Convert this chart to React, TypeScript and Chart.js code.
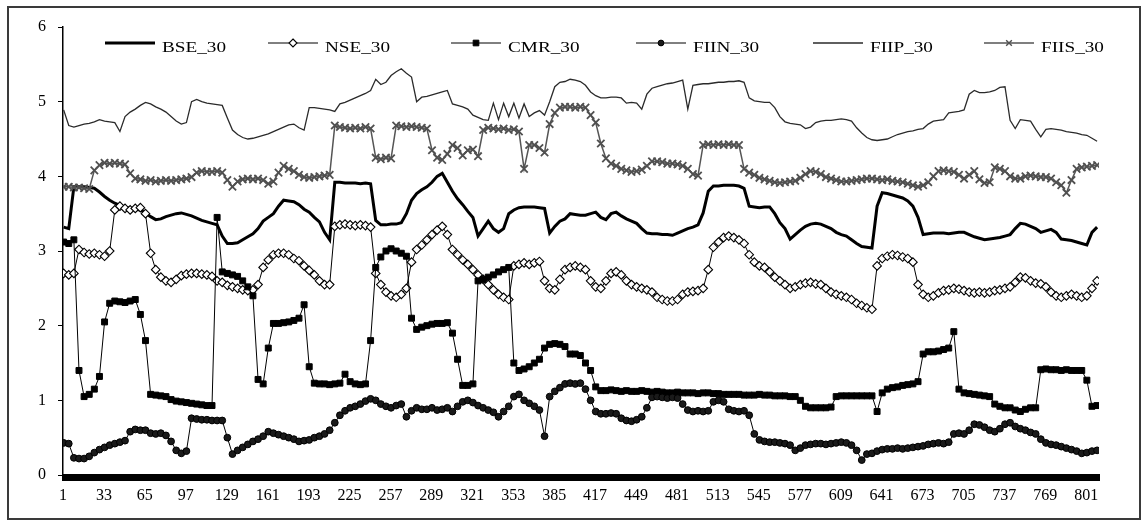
import React, { useEffect, useRef } from 'react';
import { Chart, registerables } from 'chart.js';

Chart.register(...registerables);

// ---- data -----------------------------------------------------------------
const N_PERIODS = 810;
const X_TICK_LABELS = [1, 33, 65, 97, 129, 161, 193, 225, 257, 289, 321, 353, 385, 417, 449, 481, 513, 545, 577, 609, 641, 673, 705, 737, 769, 801];
const Y_TICK_LABELS = [0, 1, 2, 3, 4, 5, 6];
// observation number of each sampled point (every 4th period)
const PERIODS = Array.from({ length: 203 }, (_, k) => 1 + 4 * k);

const BSE_30 = [
  3.32, 3.30, 3.86, 3.86, 3.86, 3.85, 3.84, 3.79, 3.73, 3.68,
  3.64, 3.61, 3.59, 3.57, 3.56, 3.55, 3.51, 3.46, 3.42, 3.43,
  3.46, 3.48, 3.50, 3.51, 3.49, 3.47, 3.44, 3.41, 3.39, 3.37,
  3.35, 3.20, 3.10, 3.10, 3.11, 3.15, 3.19, 3.23, 3.30, 3.40,
  3.45, 3.50, 3.60, 3.68, 3.67, 3.66, 3.62, 3.56, 3.52, 3.45,
  3.39, 3.25, 3.15, 3.92, 3.92, 3.91, 3.91, 3.91, 3.90, 3.91,
  3.90, 3.41, 3.35, 3.35, 3.36, 3.36, 3.38, 3.50, 3.68, 3.77,
  3.82, 3.86, 3.92, 4.00, 4.04, 3.92, 3.80, 3.70, 3.62, 3.53,
  3.45, 3.20, 3.30, 3.40, 3.30, 3.25, 3.30, 3.50, 3.55, 3.58,
  3.59, 3.59, 3.59, 3.58, 3.57, 3.24, 3.33, 3.40, 3.43, 3.50,
  3.49, 3.48, 3.48, 3.50, 3.52, 3.45, 3.42, 3.50, 3.52, 3.47,
  3.43, 3.40, 3.37, 3.30, 3.24, 3.23, 3.23, 3.22, 3.22, 3.21,
  3.24, 3.27, 3.30, 3.32, 3.35, 3.51, 3.80, 3.87, 3.87, 3.88,
  3.88, 3.88, 3.87, 3.84, 3.60, 3.59, 3.58, 3.59, 3.59, 3.50,
  3.38, 3.30, 3.16, 3.22, 3.28, 3.33, 3.36, 3.37, 3.36, 3.33,
  3.30, 3.25, 3.22, 3.20, 3.15, 3.10, 3.06, 3.05, 3.04, 3.60,
  3.78, 3.77, 3.75, 3.73, 3.71, 3.67, 3.60, 3.45, 3.22, 3.23,
  3.24, 3.24, 3.24, 3.23, 3.24, 3.25, 3.25, 3.22, 3.19, 3.17,
  3.15, 3.16, 3.17, 3.18, 3.20, 3.22, 3.30, 3.37, 3.36, 3.33,
  3.30, 3.25, 3.27, 3.29, 3.25, 3.16, 3.15, 3.14, 3.12, 3.10,
  3.08, 3.25, 3.32,
];

const NSE_30 = [
  2.70, 2.68, 2.70, 3.02, 2.98, 2.96, 2.97, 2.95, 2.93, 3.00,
  3.55, 3.60, 3.57, 3.55, 3.57, 3.58, 3.50, 2.97, 2.75, 2.65,
  2.60, 2.58, 2.62, 2.67, 2.69, 2.70, 2.70, 2.69, 2.68, 2.66,
  2.60, 2.58, 2.54, 2.52, 2.50, 2.48, 2.47, 2.48, 2.55, 2.78,
  2.88, 2.95, 2.97, 2.97, 2.95, 2.90, 2.87, 2.80, 2.74, 2.68,
  2.60, 2.55, 2.55, 3.33, 3.35, 3.36, 3.35, 3.34, 3.35, 3.34,
  3.32, 2.70, 2.55, 2.45, 2.40, 2.38, 2.42, 2.50, 2.85, 3.02,
  3.08, 3.15, 3.22, 3.28, 3.33, 3.22, 3.02, 2.95, 2.88, 2.82,
  2.75, 2.68, 2.62, 2.55, 2.48, 2.42, 2.38, 2.35, 2.80, 2.82,
  2.84, 2.82, 2.84, 2.86, 2.60, 2.50, 2.48, 2.62, 2.75, 2.78,
  2.80, 2.78, 2.75, 2.60, 2.52, 2.50, 2.60, 2.70, 2.72, 2.68,
  2.60, 2.55, 2.52, 2.50, 2.48, 2.45, 2.38, 2.35, 2.33, 2.33,
  2.35, 2.42, 2.45, 2.46, 2.47, 2.50, 2.75, 3.05, 3.12, 3.18,
  3.20, 3.18, 3.15, 3.10, 2.95, 2.85, 2.80, 2.78, 2.72, 2.65,
  2.60, 2.55, 2.50, 2.52, 2.55, 2.57, 2.58, 2.56, 2.55, 2.50,
  2.45, 2.42, 2.40, 2.38, 2.35, 2.30, 2.27, 2.24, 2.22, 2.80,
  2.90, 2.93, 2.95, 2.94, 2.92, 2.90, 2.85, 2.55, 2.42, 2.38,
  2.40, 2.44, 2.47, 2.48, 2.50, 2.49, 2.47, 2.45, 2.44, 2.45,
  2.44, 2.45, 2.47, 2.48, 2.50, 2.52, 2.58, 2.65, 2.64, 2.60,
  2.57, 2.56, 2.52, 2.45, 2.40, 2.38, 2.40, 2.42, 2.40, 2.38,
  2.40, 2.50, 2.60,
];

const CMR_30 = [
  3.12, 3.10, 3.15, 1.40, 1.05, 1.08, 1.15, 1.32, 2.05, 2.30,
  2.33, 2.32, 2.31, 2.33, 2.35, 2.15, 1.80, 1.08, 1.07, 1.06,
  1.05, 1.01, 0.99, 0.98, 0.97, 0.96, 0.95, 0.94, 0.93, 0.93,
  3.45, 2.72, 2.70, 2.68, 2.66, 2.60, 2.52, 2.40, 1.28, 1.22,
  1.70, 2.03, 2.03, 2.04, 2.05, 2.07, 2.10, 2.28, 1.45, 1.23,
  1.22, 1.22, 1.21, 1.22, 1.23, 1.35, 1.25, 1.22, 1.21, 1.22,
  1.80, 2.78, 2.92, 3.00, 3.03, 3.00, 2.97, 2.93, 2.10, 1.95,
  1.98, 2.00, 2.02, 2.03, 2.03, 2.04, 1.90, 1.55, 1.20, 1.20,
  1.22, 2.60, 2.62, 2.65, 2.68, 2.72, 2.75, 2.78, 1.50, 1.40,
  1.42, 1.45, 1.50, 1.55, 1.70, 1.75, 1.76, 1.75, 1.72, 1.62,
  1.62, 1.60, 1.50, 1.40, 1.18, 1.13, 1.13, 1.14, 1.13, 1.12,
  1.13, 1.12, 1.12, 1.13, 1.12, 1.11, 1.12, 1.11, 1.10, 1.10,
  1.11, 1.10, 1.10, 1.10, 1.09, 1.10, 1.10, 1.09, 1.09, 1.08,
  1.08, 1.08, 1.08, 1.07, 1.07, 1.07, 1.08, 1.07, 1.07, 1.06,
  1.06, 1.06, 1.05, 1.05, 1.00, 0.92, 0.90, 0.90, 0.90, 0.90,
  0.91, 1.05, 1.06, 1.06, 1.06, 1.06, 1.06, 1.06, 1.06, 0.85,
  1.10, 1.15, 1.17, 1.18, 1.20, 1.21, 1.22, 1.25, 1.62, 1.65,
  1.65, 1.66, 1.68, 1.70, 1.92, 1.15, 1.10, 1.09, 1.08, 1.07,
  1.06, 1.05, 0.95, 0.92, 0.90, 0.90, 0.87, 0.85, 0.88, 0.90,
  0.90, 1.41, 1.42, 1.41, 1.41, 1.40, 1.41, 1.40, 1.40, 1.40,
  1.27, 0.92, 0.93,
];

const FIIN_30 = [
  0.43, 0.42, 0.23, 0.22, 0.22, 0.25, 0.30, 0.34, 0.37, 0.40,
  0.42, 0.44, 0.46, 0.58, 0.61, 0.60, 0.60, 0.56, 0.55, 0.56,
  0.53, 0.45, 0.33, 0.29, 0.32, 0.76, 0.75, 0.74, 0.74, 0.73,
  0.73, 0.73, 0.50, 0.28, 0.33, 0.37, 0.41, 0.45, 0.48, 0.52,
  0.58, 0.56, 0.54, 0.52, 0.50, 0.48, 0.45, 0.46, 0.47, 0.50,
  0.52, 0.55, 0.60, 0.70, 0.80, 0.86, 0.90, 0.92, 0.95, 0.99,
  1.02, 1.00, 0.95, 0.92, 0.90, 0.93, 0.95, 0.78, 0.86, 0.90,
  0.88, 0.88, 0.90, 0.87, 0.88, 0.90, 0.85, 0.92, 0.98, 1.00,
  0.97, 0.93, 0.90, 0.87, 0.84, 0.78, 0.85, 0.92, 1.05, 1.08,
  1.00, 0.96, 0.92, 0.87, 0.52, 1.05, 1.12, 1.17, 1.22, 1.23,
  1.22, 1.23, 1.15, 1.00, 0.85, 0.82, 0.82, 0.83, 0.82, 0.76,
  0.73, 0.72, 0.74, 0.78, 0.90, 1.04, 1.05, 1.04, 1.03, 1.04,
  1.03, 0.95, 0.87, 0.85, 0.86, 0.85, 0.86, 0.98, 1.00, 0.98,
  0.88, 0.86, 0.85, 0.86, 0.80, 0.55, 0.47, 0.45, 0.44, 0.44,
  0.43, 0.42, 0.40, 0.33, 0.36, 0.40, 0.41, 0.42, 0.42, 0.41,
  0.42, 0.43, 0.44, 0.43, 0.40, 0.33, 0.20, 0.28, 0.29, 0.32,
  0.34, 0.35, 0.35, 0.36, 0.35, 0.36, 0.37, 0.38, 0.39, 0.41,
  0.42, 0.43, 0.42, 0.44, 0.55, 0.56, 0.55, 0.60, 0.68, 0.67,
  0.64, 0.60, 0.58, 0.62, 0.68, 0.70, 0.65, 0.62, 0.60, 0.57,
  0.55, 0.48, 0.43, 0.41, 0.40, 0.38, 0.36, 0.34, 0.32, 0.29,
  0.30, 0.32, 0.33,
];

const FIIP_30 = [
  4.89, 4.68, 4.66, 4.68, 4.70, 4.71, 4.73, 4.76, 4.74, 4.73,
  4.72, 4.60, 4.80, 4.86, 4.90, 4.95, 4.99, 4.97, 4.93, 4.90,
  4.86, 4.80, 4.74, 4.70, 4.72, 5.00, 5.03, 5.00, 4.98, 4.97,
  4.96, 4.95, 4.78, 4.62, 4.56, 4.52, 4.50, 4.51, 4.53, 4.55,
  4.57, 4.60, 4.63, 4.66, 4.69, 4.70, 4.65, 4.62, 4.92, 4.92,
  4.91, 4.90, 4.89, 4.87, 4.97, 4.99, 5.02, 5.05, 5.08, 5.11,
  5.15, 5.30, 5.23, 5.26, 5.35, 5.40, 5.44, 5.38, 5.33, 5.00,
  5.06, 5.07, 5.09, 5.11, 5.13, 5.15, 4.97, 4.95, 4.93, 4.90,
  4.82, 4.79, 4.76, 4.75, 4.98, 4.76, 4.98, 4.80, 4.98, 4.78,
  4.97, 4.80, 4.85, 4.88, 4.82, 5.00, 5.20, 5.26, 5.27, 5.30,
  5.29, 5.27, 5.22, 5.13, 5.08, 5.05, 5.05, 5.06, 5.06, 5.05,
  4.98, 4.99, 4.98, 4.90, 5.10, 5.18, 5.20, 5.22, 5.24, 5.25,
  5.27, 5.29, 4.90, 5.22, 5.23, 5.24, 5.24, 5.25, 5.26, 5.26,
  5.27, 5.27, 5.28, 5.26, 5.05, 5.01, 5.00, 4.99, 4.99, 4.92,
  4.80, 4.73, 4.71, 4.70, 4.69, 4.64, 4.66, 4.72, 4.74, 4.75,
  4.75, 4.76, 4.77, 4.76, 4.74, 4.65, 4.58, 4.52, 4.49, 4.48,
  4.49, 4.50, 4.53, 4.56, 4.58, 4.60, 4.61, 4.63, 4.64, 4.70,
  4.74, 4.75, 4.76, 4.85, 4.86, 4.87, 4.89, 5.10, 5.15, 5.12,
  5.12, 5.13, 5.15, 5.19, 5.20, 4.75, 4.64, 4.76, 4.75, 4.74,
  4.63, 4.53, 4.63, 4.64, 4.63, 4.62, 4.60, 4.59, 4.58, 4.56,
  4.55, 4.51, 4.47,
];

const FIIS_30 = [
  3.86, 3.86, 3.85, 3.85, 3.84, 3.83, 4.08, 4.15, 4.18, 4.17,
  4.18, 4.17, 4.16, 4.04, 3.97, 3.96, 3.94, 3.95, 3.93, 3.94,
  3.95, 3.94, 3.95, 3.96, 3.97, 3.99, 4.05, 4.07, 4.06, 4.06,
  4.07, 4.05, 3.95, 3.86, 3.93, 3.96, 3.97, 3.96, 3.97, 3.95,
  3.90, 3.93, 4.05, 4.14, 4.10, 4.07, 4.02, 3.99, 3.98, 3.99,
  4.00, 4.01, 4.02, 4.68, 4.66, 4.65, 4.64, 4.65, 4.64, 4.66,
  4.64, 4.25, 4.23, 4.25, 4.24, 4.68, 4.67, 4.66, 4.67, 4.66,
  4.65, 4.64, 4.35, 4.25, 4.22, 4.30, 4.42, 4.38, 4.28, 4.35,
  4.36, 4.27, 4.62, 4.65, 4.64, 4.63, 4.64, 4.62, 4.63, 4.60,
  4.10, 4.42, 4.42, 4.38, 4.32, 4.70, 4.85, 4.92, 4.93, 4.93,
  4.92, 4.93, 4.92, 4.82, 4.72, 4.44, 4.24, 4.17, 4.14, 4.10,
  4.08, 4.06, 4.07, 4.09, 4.14, 4.20, 4.20, 4.19, 4.17, 4.17,
  4.16, 4.14, 4.10, 4.03, 4.01, 4.42, 4.43, 4.42, 4.43, 4.42,
  4.43, 4.42, 4.42, 4.10, 4.05, 4.02, 3.98, 3.96, 3.94, 3.92,
  3.91, 3.92, 3.93, 3.94, 3.98, 4.03, 4.07, 4.06, 4.03, 3.99,
  3.97, 3.95, 3.93, 3.93, 3.94, 3.95, 3.96, 3.97, 3.97, 3.96,
  3.95, 3.96, 3.94, 3.93, 3.92, 3.90, 3.88, 3.86, 3.88, 3.92,
  4.00, 4.07, 4.08, 4.07, 4.06, 4.02, 3.97, 4.02, 4.07, 3.96,
  3.91, 3.92, 4.12, 4.10, 4.07, 4.00, 3.97, 3.97, 4.00, 4.01,
  4.00, 3.99, 3.99, 3.97, 3.92, 3.88, 3.78, 3.95, 4.10, 4.12,
  4.13, 4.14, 4.15,
];

// ---- styling ----------------------------------------------------------------
const FONT_FAMILY = "'Liberation Serif', 'Times New Roman', serif";

function pts(values: number[]) {
  return PERIODS.map((x, k) => ({ x, y: values[k] }));
}

type Marker = 'none' | 'diamond' | 'square' | 'circle' | 'cross';

function drawMarker(ctx: CanvasRenderingContext2D, kind: Marker, x: number, y: number, ds: any) {
  const r = Math.min(ds.pointRadius, 4);
  ctx.save();
  ctx.lineWidth = Math.min(ds.pointBorderWidth || 1, 1.4);
  ctx.strokeStyle = ds.pointBorderColor;
  ctx.fillStyle = ds.pointBackgroundColor;
  ctx.beginPath();
  if (kind === 'diamond') {
    ctx.moveTo(x, y - r); ctx.lineTo(x + r, y); ctx.lineTo(x, y + r); ctx.lineTo(x - r, y); ctx.closePath();
    ctx.fill(); ctx.stroke();
  } else if (kind === 'square') {
    const s = r * Math.SQRT1_2;
    ctx.rect(x - s, y - s, 2 * s, 2 * s); ctx.fill(); ctx.stroke();
  } else if (kind === 'circle') {
    ctx.arc(x, y, r * 0.85, 0, Math.PI * 2); ctx.fill(); ctx.stroke();
  } else if (kind === 'cross') {
    const s = r * Math.SQRT1_2;
    ctx.moveTo(x - s, y - s); ctx.lineTo(x + s, y + s);
    ctx.moveTo(x + s, y - s); ctx.lineTo(x - s, y + s);
    ctx.stroke();
  }
  ctx.restore();
}

const MARKERS: Marker[] = ['none', 'diamond', 'square', 'circle', 'none', 'cross'];

const excelLegend = {
  id: 'excelLegend',
  afterDraw(chart: any) {
    const ctx: CanvasRenderingContext2D = chart.ctx;
    const starts = [105, 268, 451, 636, 813, 984];
    const lineY = 43;
    const sample = 50;
    chart.data.datasets.forEach((ds: any, i: number) => {
      const x0 = starts[i];
      ctx.save();
      ctx.strokeStyle = ds.borderColor;
      ctx.lineWidth = ds.borderWidth;
      ctx.beginPath();
      ctx.moveTo(x0, lineY);
      ctx.lineTo(x0 + sample, lineY);
      ctx.stroke();
      ctx.restore();
      if (MARKERS[i] !== 'none') drawMarker(ctx, MARKERS[i], x0 + sample / 2, lineY, ds);
      ctx.save();
      ctx.fillStyle = '#000';
      ctx.font = `15px ${FONT_FAMILY}`;
      ctx.textBaseline = 'alphabetic';
      ctx.translate(x0 + sample + 7, 52);
      ctx.scale(1.28, 1);
      ctx.fillText(ds.label, 0, 0);
      ctx.restore();
    });
  },
};

export default function App() {
  const ref = useRef<HTMLCanvasElement | null>(null);

  useEffect(() => {
    if (!ref.current) return;
    const boundaries = Array.from({ length: N_PERIODS + 1 }, (_, k) => ({ value: k + 0.5 }));
    const chart = new Chart(ref.current, {
      type: 'line',
      data: {
        datasets: [
          {
            label: 'BSE_30', data: pts(BSE_30), borderColor: '#000', borderWidth: 3,
            pointRadius: 0, order: 6,
          },
          {
            label: 'NSE_30', data: pts(NSE_30), borderColor: '#000', borderWidth: 1,
            pointStyle: 'rectRot', pointRadius: 4.3, pointBackgroundColor: '#fff',
            pointBorderColor: '#000', pointBorderWidth: 1.1, order: 5,
          },
          {
            label: 'CMR_30', data: pts(CMR_30), borderColor: '#000', borderWidth: 1,
            pointStyle: 'rect', pointRadius: 4.2, pointBackgroundColor: '#000',
            pointBorderColor: '#000', pointBorderWidth: 1, order: 4,
          },
          {
            label: 'FIIN_30', data: pts(FIIN_30), borderColor: '#000', borderWidth: 1,
            pointStyle: 'circle', pointRadius: 3.4, pointBackgroundColor: '#1a1a1a',
            pointBorderColor: '#000', pointBorderWidth: 1, order: 3,
          },
          {
            label: 'FIIP_30', data: pts(FIIP_30), borderColor: '#2a2a2a', borderWidth: 1.3,
            pointRadius: 0, order: 2,
          },
          {
            label: 'FIIS_30', data: pts(FIIS_30), borderColor: '#555', borderWidth: 1.5,
            pointStyle: 'crossRot', pointRadius: 5.2, pointBackgroundColor: '#555',
            pointBorderColor: '#505050', pointBorderWidth: 1.8, order: 1,
          },
        ],
      },
      options: {
        responsive: false,
        animation: false,
        devicePixelRatio: 1,
        events: [],
        layout: { padding: { top: 27, right: 45, left: 0, bottom: 0 } },
        elements: { line: { tension: 0 } },
        plugins: {
          legend: { display: false },
          tooltip: { enabled: false },
          title: { display: false },
        },
        scales: {
          x: {
            type: 'linear',
            min: 0.5,
            max: N_PERIODS + 0.5,
            afterBuildTicks: (scale: any) => { scale.ticks = boundaries.map((b) => ({ ...b })); },
            afterFit: (scale: any) => { scale.height = 51; },
            ticks: {
              autoSkip: false,
              maxRotation: 0,
              minRotation: 0,
              padding: 5,
              color: '#000',
              font: { family: FONT_FAMILY, size: 16 },
              callback: (v: any) => {
                const idx = Number(v) + 0.5;
                return X_TICK_LABELS.includes(idx) ? String(idx) : '';
              },
            },
            grid: { drawOnChartArea: false, drawTicks: true, tickLength: 6, color: '#000', lineWidth: 2 },
            border: { display: true, color: '#000', width: 2 },
          },
          y: {
            type: 'linear',
            min: Y_TICK_LABELS[0],
            max: Y_TICK_LABELS[Y_TICK_LABELS.length - 1],
            afterFit: (scale: any) => { scale.width = 63; },
            ticks: {
              stepSize: 1,
              padding: 12,
              color: '#000',
              font: { family: FONT_FAMILY, size: 16 },
            },
            grid: { drawOnChartArea: false, drawTicks: true, tickLength: 5, color: '#000', lineWidth: 1 },
            border: { display: true, color: '#000', width: 1.5 },
          },
        },
      },
      plugins: [excelLegend],
    });
    return () => chart.destroy();
  }, []);

  return (
    <div style={{ position: 'fixed', left: 0, top: 0, width: 1144, height: 526, background: '#fff' }}>
      <canvas ref={ref} width={1144} height={526} style={{ position: 'absolute', left: 0, top: 0, width: 1144, height: 526 }} />
      <div
        style={{
          position: 'absolute', left: 7, top: 6, width: 1134, height: 514,
          border: '2px solid #3a3a3a', boxSizing: 'border-box', pointerEvents: 'none',
        }}
      />
    </div>
  );
}
